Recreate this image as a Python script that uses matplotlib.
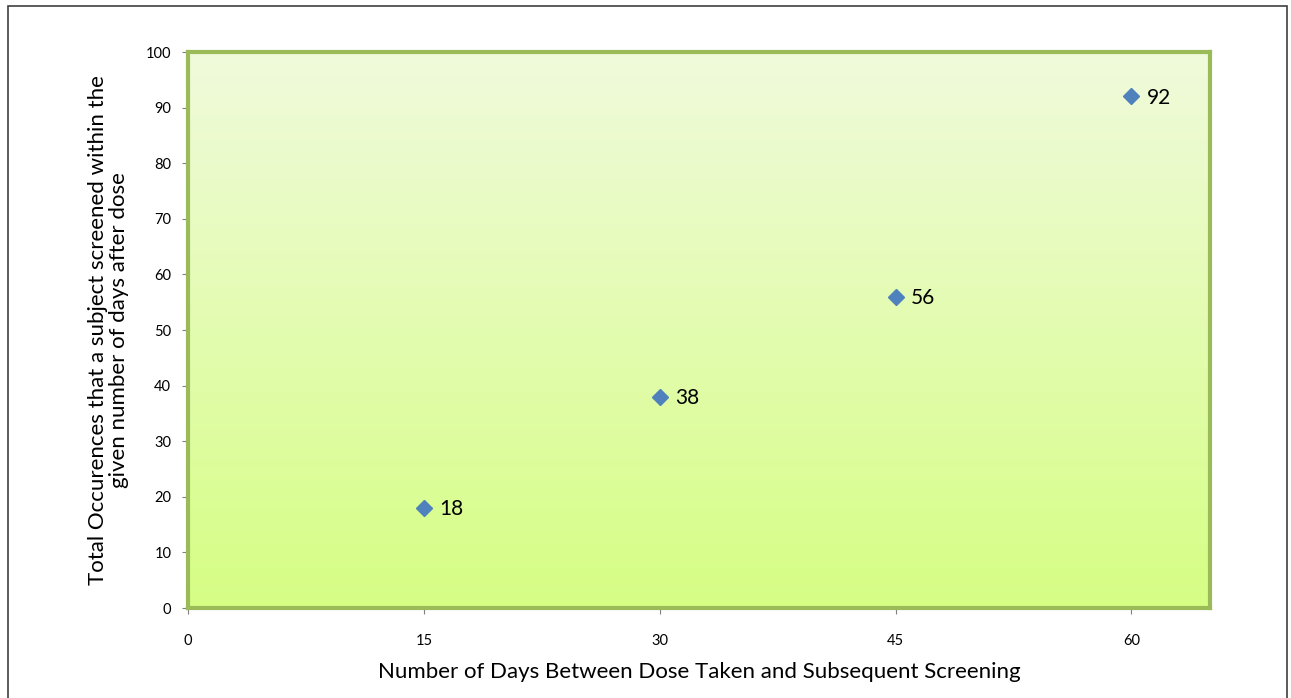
import matplotlib.pyplot as plt
import matplotlib.patches as patches
import numpy as np

days = [15, 30, 45, 60]
occurrences = [18, 38, 56, 92]
x_ticks = [0, 15, 30, 45, 60]
y_ticks = list(range(0, 101, 10))

plt.rcParams['font.family'] = ['Lato', 'DejaVu Sans']

fig = plt.figure(figsize=(12.91, 6.98), dpi=100)
ax = fig.add_axes([0.1456, 0.1289, 0.7917, 0.7966])

# gradient background: light top, yellow-green bottom
top = np.array([0xF0, 0xFA, 0xDC]) / 255
bot = np.array([0xD6, 0xFE, 0x84]) / 255
t = np.linspace(0, 1, 256)[:, None]
grad = (top * (1 - t) + bot * t)[:, None, :]
ax.imshow(grad, extent=[0, 65, 0, 100], aspect='auto', origin='upper', zorder=0)

ax.plot(days, occurrences, linestyle='none', marker='D', markersize=8,
        color='#4F81BD', zorder=3)
for x, y in zip(days, occurrences):
    ax.annotate(str(y), (x, y), xytext=(11, -1), textcoords='offset points',
                va='center', ha='left', fontsize=15, color='black')

ax.set_xlim(0, 65)
ax.set_ylim(0, 100)
ax.set_xticks(x_ticks)
ax.set_yticks(y_ticks)
ax.tick_params(axis='x', length=4, color='#808080', pad=15, labelsize=10.5)
ax.tick_params(axis='y', length=4, color='#808080', pad=8, labelsize=10.5)
for s in ax.spines.values():
    s.set_color('#9BBB59')
    s.set_linewidth(3)

ax.set_xlabel('Number of Days Between Dose Taken and Subsequent Screening',
              fontsize=16, labelpad=10)
ax.set_ylabel('Total Occurences that a subject screened within the\n'
              'given number of days after dose', fontsize=16, labelpad=12,
              linespacing=1.1)

# outer chart border
fig.patches.append(patches.Rectangle((8 / 1291, -0.01), 1279 / 1291, 1 - 6 / 698 + 0.01,
                                     transform=fig.transFigure, fill=False,
                                     edgecolor='#404040', linewidth=1.2))

fig.savefig('out.png', dpi=100)
